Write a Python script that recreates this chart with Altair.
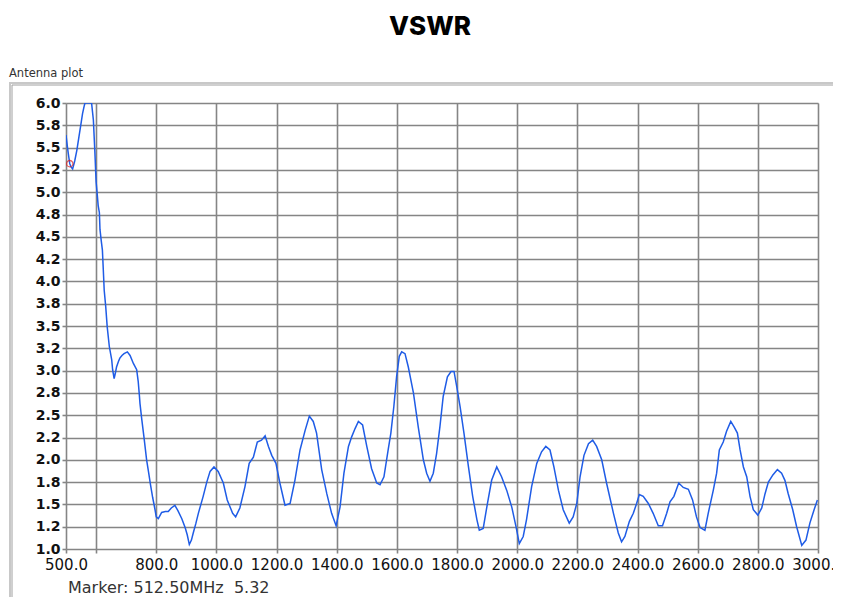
import altair as alt
import pandas as pd

# ---- data ----
freq_mhz = [500, 505, 509, 512.5, 517, 522, 529, 536, 543, 549, 555, 560, 563, 585, 591, 596,
            600, 604, 607, 611, 613, 617, 621, 624, 627, 632, 637, 644, 652, 655, 660, 664,
            668, 674, 679, 686, 693, 704, 713, 724, 735, 740, 744, 746, 752, 759, 768, 775,
            781, 788, 796, 800, 807, 818, 830, 840, 850, 862, 872, 885, 896, 903, 910, 917,
            923, 932, 940, 956, 968, 979, 992, 1006, 1023, 1036, 1054, 1064, 1078, 1095, 1109, 1123,
            1136, 1150, 1162, 1173, 1184, 1198, 1211, 1228, 1245, 1261, 1278, 1295, 1309, 1322, 1333, 1350,
            1367, 1383, 1398, 1411, 1424, 1439, 1450, 1461, 1472, 1486, 1500, 1516, 1533, 1544, 1557, 1571,
            1580, 1590, 1599, 1608, 1616, 1627, 1638, 1655, 1671, 1688, 1699, 1710, 1721, 1732, 1743, 1754,
            1768, 1780, 1790, 1799, 1810, 1823, 1838, 1852, 1866, 1874, 1887, 1901, 1915, 1932, 1948, 1965,
            1982, 1996, 2007, 2020, 2031, 2048, 2065, 2081, 2095, 2109, 2122, 2137, 2153, 2173, 2186, 2198,
            2209, 2222, 2237, 2251, 2264, 2281, 2297, 2320, 2336, 2347, 2358, 2373, 2386, 2397, 2406, 2419,
            2436, 2452, 2469, 2483, 2497, 2508, 2521, 2537, 2552, 2569, 2583, 2596, 2608, 2624, 2635, 2652,
            2663, 2672, 2685, 2696, 2710, 2721, 2732, 2741, 2752, 2763, 2774, 2785, 2800, 2813, 2824, 2835,
            2850, 2865, 2879, 2890, 2901, 2916, 2929, 2946, 2960, 2973, 2987, 2998]
vswr = [5.64, 5.50, 5.40, 5.32, 5.28, 5.26, 5.35, 5.47, 5.62, 5.75, 5.88, 5.96, 6.0, 6.0, 5.81, 5.45,
        5.12, 4.97, 4.85, 4.77, 4.58, 4.46, 4.35, 4.13, 3.90, 3.72, 3.49, 3.27, 3.12, 3.01, 2.91, 2.97,
        3.04, 3.10, 3.14, 3.17, 3.19, 3.21, 3.17, 3.08, 3.01, 2.88, 2.72, 2.63, 2.45, 2.26, 2.0, 1.85,
        1.72, 1.58, 1.44, 1.36, 1.34, 1.41, 1.42, 1.42, 1.46, 1.49, 1.43, 1.34, 1.24, 1.16, 1.05, 1.10,
        1.18, 1.29, 1.40, 1.59, 1.75, 1.87, 1.92, 1.87, 1.74, 1.55, 1.40, 1.36, 1.46, 1.70, 1.96, 2.03,
        2.20, 2.22, 2.27, 2.15, 2.05, 1.96, 1.74, 1.49, 1.51, 1.77, 2.11, 2.33, 2.49, 2.43, 2.30, 1.89,
        1.62, 1.40, 1.26, 1.47, 1.85, 2.15, 2.26, 2.35, 2.43, 2.39, 2.15, 1.90, 1.74, 1.72, 1.81, 2.11,
        2.30, 2.60, 2.93, 3.16, 3.21, 3.19, 3.04, 2.75, 2.37, 2.0, 1.85, 1.76, 1.85, 2.07, 2.37, 2.71,
        2.93, 2.99, 2.99, 2.82, 2.60, 2.30, 1.92, 1.59, 1.33, 1.21, 1.23, 1.51, 1.77, 1.92, 1.81, 1.66,
        1.47, 1.25, 1.06, 1.14, 1.33, 1.70, 1.96, 2.09, 2.15, 2.11, 1.92, 1.66, 1.44, 1.29, 1.36, 1.51,
        1.81, 2.05, 2.18, 2.22, 2.15, 2.0, 1.74, 1.40, 1.18, 1.08, 1.14, 1.31, 1.40, 1.51, 1.61, 1.59,
        1.51, 1.40, 1.26, 1.26, 1.40, 1.53, 1.59, 1.74, 1.69, 1.67, 1.55, 1.36, 1.24, 1.21, 1.40, 1.66,
        1.85, 2.11, 2.20, 2.32, 2.43, 2.37, 2.30, 2.11, 1.92, 1.81, 1.59, 1.44, 1.38, 1.46, 1.62, 1.75,
        1.83, 1.89, 1.85, 1.77, 1.62, 1.44, 1.25, 1.04, 1.10, 1.29, 1.44, 1.55]

y_tick_values = [1.0, 1.25, 1.5, 1.75, 2.0, 2.25, 2.5, 2.75, 3.0, 3.25, 3.5, 3.75, 4.0,
                 4.25, 4.5, 4.75, 5.0, 5.25, 5.5, 5.75, 6.0]
y_tick_labels = ["1.0", "1.2", "1.5", "1.8", "2.0", "2.2", "2.5", "2.8", "3.0", "3.2", "3.5",
                 "3.8", "4.0", "4.2", "4.5", "4.8", "5.0", "5.2", "5.5", "5.8", "6.0"]
x_tick_values = [500, 600, 800, 1000, 1200, 1400, 1600, 1800, 2000, 2200, 2400, 2600, 2800, 3000]
x_tick_labels = ["500.0", "", "800.0", "1000.0", "1200.0", "1400.0", "1600.0", "1800.0",
                 "2000.0", "2200.0", "2400.0", "2600.0", "2800.0", "3000.0"]

marker_freq = [512.5]
marker_vswr = [5.32]

chart_title = "VSWR"
panel_label = "Antenna plot"
marker_text = "Marker: {:.2f}MHz\u00a0 {:.2f}".format(marker_freq[0], marker_vswr[0])

# ---- build ----
df = pd.DataFrame({"freq": freq_mhz, "vswr": vswr})
mk = pd.DataFrame({"freq": marker_freq, "vswr": marker_vswr})
one = pd.DataFrame({"a": [0]})


def js_map(vals, labels):
    items = ",".join("'{}':'{}'".format(format(v, "g"), l) for v, l in zip(vals, labels))
    return "{" + items + "}[''+datum.value]"


x_scale = alt.Scale(domain=[500, 3000], nice=False, zero=False)
y_scale = alt.Scale(domain=[1, 6], nice=False, zero=False)

x_axis = alt.Axis(values=x_tick_values, labelExpr=js_map(x_tick_values, x_tick_labels),
                  title=None, domain=False, grid=True, gridColor="#858585", gridWidth=1.6,
                  ticks=True, tickSize=4, tickColor="#858585", tickWidth=1.6,
                  labelFont="DejaVu Sans", labelFontSize=15, labelColor="#111111",
                  labelPadding=4, labelOverlap=False, labelFlush=False)
y_axis = alt.Axis(values=y_tick_values, labelExpr=js_map(y_tick_values, y_tick_labels),
                  title=None, domain=False, grid=True, gridColor="#858585", gridWidth=1.6,
                  ticks=True, tickSize=4, tickColor="#858585", tickWidth=1.6,
                  labelFont="DejaVu Sans", labelFontSize=14, labelFontWeight="bold",
                  labelColor="#111111", labelPadding=2, labelOverlap=False)

frame_outer = alt.Chart(one).mark_rect(fill=None, stroke="#c8c8c8", strokeWidth=2).encode(
    x=alt.value(-56), x2=alt.value(800), y=alt.value(-20), y2=alt.value(530))
frame_inner = alt.Chart(one).mark_rect(fill=None, stroke="#a0a0a0", strokeWidth=1).encode(
    x=alt.value(-54), x2=alt.value(800), y=alt.value(-18), y2=alt.value(530))

line = alt.Chart(df).mark_line(color="#1f5ce6", strokeWidth=1.5, clip=True).encode(
    x=alt.X("freq:Q", scale=x_scale, axis=x_axis),
    y=alt.Y("vswr:Q", scale=y_scale, axis=y_axis),
)
marker = alt.Chart(mk).mark_point(shape="circle", size=40, color="#e02020", strokeWidth=1.3,
                                   filled=False).encode(
    x=alt.X("freq:Q", scale=x_scale, axis=x_axis),
    y=alt.Y("vswr:Q", scale=y_scale, axis=y_axis))

label_panel = alt.Chart(one).mark_text(text=panel_label, align="left", baseline="alphabetic",
                                       font="DejaVu Sans", fontSize=11.5, color="#333333").encode(
    x=alt.value(-57), y=alt.value(-26))
label_marker = alt.Chart(one).mark_text(text=marker_text, align="left", baseline="alphabetic",
                                        font="DejaVu Sans", fontSize=16, color="#333333").encode(
    x=alt.value(2), y=alt.value(490))

chart = alt.layer(frame_outer, frame_inner, line, marker, label_panel, label_marker).properties(
    width=752, height=446,
    title=alt.Title(chart_title, font="Inter", fontSize=26, fontWeight=800, color="#000000",
                    anchor="middle", offset=28, dx=-12),
    padding={"left": 58, "top": 95, "right": 15, "bottom": 48},
    autosize=alt.AutoSizeParams(type="none"),
).configure_view(stroke="#707070", strokeWidth=2).configure(background="white")

chart.save("out.html", embed_options={"renderer": "svg", "actions": False})
